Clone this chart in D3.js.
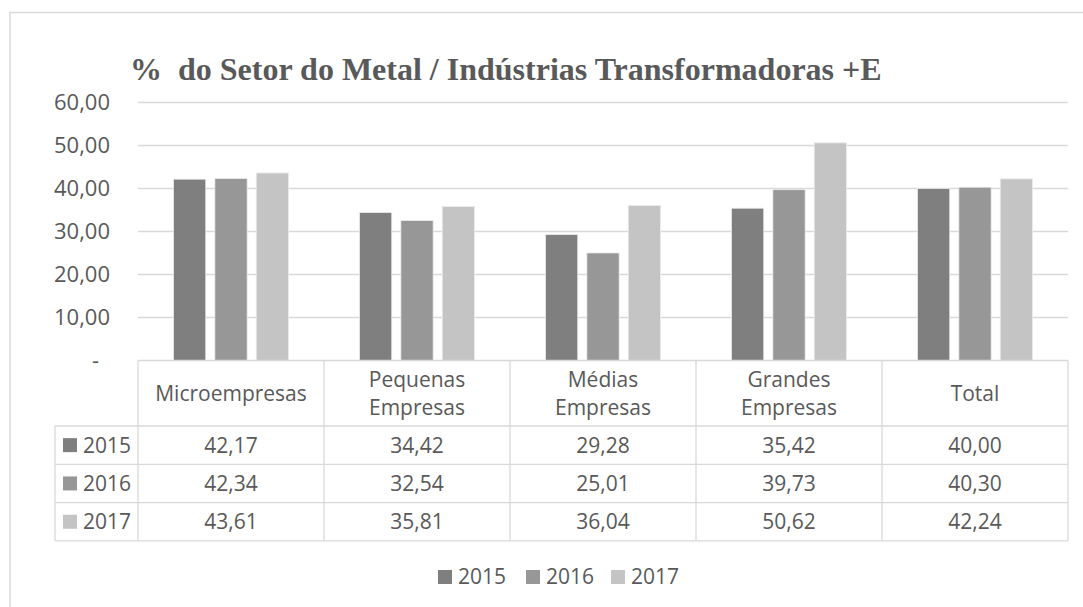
<!DOCTYPE html>
<html>
<head>
<meta charset="utf-8">
<script src="https://cdn.jsdelivr.net/npm/d3@7"></script>
<style>
body { margin: 0; background: #fff; }
text { font-family: "Open Sans", sans-serif; fill: #595959; }
</style>
</head>
<body>
<svg id="chart" width="1083" height="607"></svg>
<script>
const title = "%\u00a0 do Setor do Metal / Indústrias Transformadoras +E";
const categories = ["Microempresas", "Pequenas Empresas", "Médias Empresas", "Grandes Empresas", "Total"];
const seriesNames = ["2015", "2016", "2017"];
const values2015 = [42.17, 34.42, 29.28, 35.42, 40.00];
const values2016 = [42.34, 32.54, 25.01, 39.73, 40.30];
const values2017 = [43.61, 35.81, 36.04, 50.62, 42.24];
const yTicks = [0, 10, 20, 30, 40, 50, 60];
const colors = ["#7f7f7f", "#979797", "#c4c4c4"];

const series = [values2015, values2016, values2017];

const svg = d3.select("#chart");
const loc = d3.formatLocale({decimal: ",", thousands: ".", grouping: [3], currency: ["", ""]});
const fmt = loc.format(".2f");

const plotL = 138, plotR = 1068, plotT = 102.5, plotB = 360.5;
const gridColor = "#d9d9d9";

// outer border
svg.append("rect").attr("x", 10).attr("y", 12.5).attr("width", 1200).attr("height", 700)
  .attr("fill", "none").attr("stroke", gridColor).attr("stroke-width", 1.5);

// title
svg.append("text").attr("x", 130).attr("y", 80)
  .style("font-family", "'Liberation Serif', 'Times New Roman', serif")
  .style("font-weight", "bold").style("font-size", "32px")
  .text(title);

const x = d3.scaleBand().domain(categories).range([plotL, plotR]).padding(0);
const xInner = d3.scaleBand().domain(seriesNames).range([35.5, 150.5]).paddingInner(0.22);
const y = d3.scaleLinear().domain([0, 60]).range([plotB, plotT]);

// gridlines
svg.append("g").selectAll("line").data(yTicks.filter(d => d > 0)).join("line")
  .attr("x1", plotL).attr("x2", plotR)
  .attr("y1", d => y(d)).attr("y2", d => y(d))
  .attr("stroke", gridColor).attr("stroke-width", 1.3);

// y axis labels
const yAxis = d3.axisLeft(y).tickValues(yTicks).tickSize(0).tickPadding(0)
  .tickFormat(d => d === 0 ? "-" : fmt(d));
const gy = svg.append("g").attr("transform", "translate(110,0)").call(yAxis);
gy.select(".domain").remove();
gy.selectAll("text").style("font-size", "22px").attr("fill", "#595959")
  .style("font-family", "'Open Sans', sans-serif")
  .attr("dx", d => d === 0 ? -11 : 0);

// bars
const groups = svg.append("g").selectAll("g").data(categories).join("g")
  .attr("transform", d => `translate(${x(d)},0)`);
groups.selectAll("rect").data((c, i) => seriesNames.map((s, j) => ({s, j, v: series[j][i]})))
  .join("rect")
  .attr("x", d => xInner(d.s))
  .attr("width", xInner.bandwidth())
  .attr("y", d => y(d.v))
  .attr("height", d => y(0) - y(d.v))
  .attr("fill", d => colors[d.j])
  .attr("stroke", "#ececec").attr("stroke-width", 0.8);

// data table
const tableL = 55;
const headerB = 426;
const rowH = 38.3;
const rowYs = seriesNames.map((s, j) => headerB + j * rowH);
const tableB = headerB + seriesNames.length * rowH;
const tbl = svg.append("g");
const lineAttrs = sel => sel.attr("stroke", gridColor).attr("stroke-width", 1.3);

// horizontal lines
tbl.append("line").attr("x1", plotL).attr("x2", plotR).attr("y1", plotB).attr("y2", plotB).call(lineAttrs);
[...rowYs, tableB].forEach(yy => {
  tbl.append("line").attr("x1", tableL).attr("x2", plotR).attr("y1", yy).attr("y2", yy).call(lineAttrs);
});
// vertical lines
tbl.append("line").attr("x1", tableL).attr("x2", tableL).attr("y1", headerB).attr("y2", tableB).call(lineAttrs);
[...categories.map(c => x(c)), plotR].forEach(xx => {
  tbl.append("line").attr("x1", xx).attr("x2", xx).attr("y1", plotB).attr("y2", tableB).call(lineAttrs);
});

// header text
categories.forEach(c => {
  const words = c.split(" ");
  const cx = x(c) + x.bandwidth() / 2;
  const cy = (plotB + headerB) / 2;
  const lh = 28;
  const t = tbl.append("text").attr("text-anchor", "middle").style("font-size", "21px");
  words.forEach((w, k) => {
    t.append("tspan").attr("x", cx)
      .attr("y", cy + (k - (words.length - 1) / 2) * lh)
      .attr("dy", "0.35em").text(w);
  });
});

// rows
seriesNames.forEach((s, j) => {
  const cy = rowYs[j] + rowH / 2;
  tbl.append("rect").attr("x", 63).attr("y", cy - 7).attr("width", 14).attr("height", 14).attr("fill", colors[j]);
  tbl.append("text").attr("x", 83).attr("y", cy).attr("dy", "0.35em").style("font-size", "21px").text(s);
  categories.forEach((c, i) => {
    tbl.append("text").attr("x", x(c) + x.bandwidth() / 2).attr("y", cy).attr("dy", "0.35em")
      .attr("text-anchor", "middle").style("font-size", "21px").text(fmt(series[j][i]));
  });
});

// legend
const legendX = [438, 526, 611];
const legend = svg.append("g");
seriesNames.forEach((s, j) => {
  legend.append("rect").attr("x", legendX[j]).attr("y", 570).attr("width", 14).attr("height", 14).attr("fill", colors[j]);
  legend.append("text").attr("x", legendX[j] + 20).attr("y", 577).attr("dy", "0.35em").style("font-size", "21px").text(s);
});
</script>
</body>
</html>
